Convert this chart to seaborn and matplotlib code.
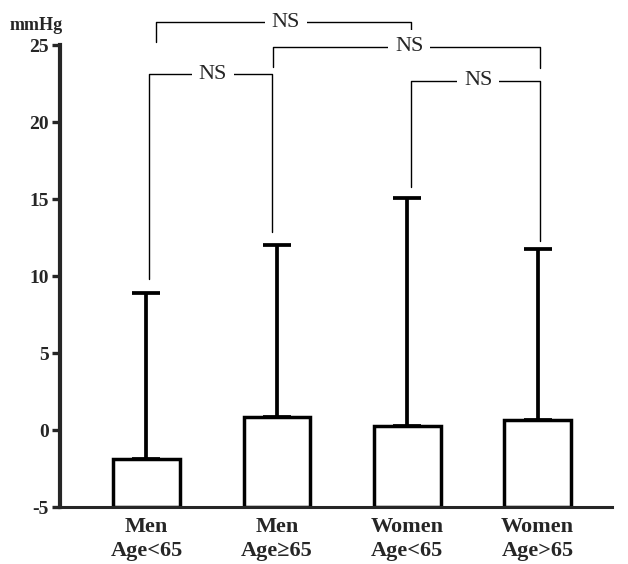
import numpy as np
import seaborn as sns
import matplotlib.pyplot as plt

# group labels and values (mmHg)
groups = ["Men\nAge<65", "Men\nAge≥65", "Women\nAge<65", "Women\nAge>65"]
means = [-1.9, 0.85, 0.25, 0.65]
upper = [8.9, 12.05, 15.1, 11.75]
baseline = -5

# NS comparison brackets between bars
brk_pairs = [(0, 2), (1, 3), (0, 1), (2, 3)]
brk_y = [26.5, 24.9, 23.1, 22.7]
brk_left_end = [25.2, 23.6, 9.8, 15.8]
brk_right_end = [25.5, 23.5, 12.85, 12.3]
brk_label = ["NS", "NS", "NS", "NS"]

sns.set_style("ticks")
plt.rcParams['font.family'] = ['Liberation Serif', 'DejaVu Serif']
plt.rcParams['axes.unicode_minus'] = False

fig = plt.figure(figsize=(6.28, 5.64), dpi=100)
ax = fig.add_axes([0.0955, 0.101, 0.879, 0.819])

sns.barplot(x=groups, y=means, color='white', edgecolor='black',
            linewidth=2.5, width=0.51, errorbar=None, ax=ax, saturation=1)
# bars start at the bottom of the axis, not at zero
for p, m in zip(ax.patches, means):
    p.set_y(baseline)
    p.set_height(m - baseline)

x = np.arange(len(groups))
ax.errorbar(x, means, yerr=[np.zeros(len(means)), np.array(upper) - np.array(means)],
            fmt='none', ecolor='black', elinewidth=2.7, capsize=10, capthick=2.7, zorder=3)

# brackets
offs = [(0.07, 0.03), (-0.03, 0.02), (0.02, -0.04), (0.03, 0.02)]
for (a, b), y, le, re, lab, (oa, ob) in zip(brk_pairs, brk_y, brk_left_end,
                                            brk_right_end, brk_label, offs):
    xa, xb = a + oa, b + ob
    ax.plot([xa, xa, xb, xb], [le, y, y, re], color='black', lw=1.0,
            clip_on=False, zorder=4)
    ax.text((xa + xb) / 2 + 0.02, y, lab, ha='center', va='center', fontsize=16,
            clip_on=False, zorder=5,
            bbox=dict(boxstyle='square,pad=0.3', fc='white', ec='none'))

ax.set_xlim(-0.663, 3.57)
ax.set_ylim(-5, 25)
ax.set_yticks([-5, 0, 5, 10, 15, 20, 25])
ax.set_xlabel("")
ax.set_ylabel("")

sns.despine(ax=ax)
ax.spines['left'].set_linewidth(3)
ax.spines['bottom'].set_linewidth(2.2)
ax.tick_params(axis='y', length=6, width=2.4, labelsize=14, pad=2)
ax.tick_params(axis='x', length=0, labelsize=16, pad=7)
for t in ax.get_yticklabels() + ax.get_xticklabels():
    t.set_fontweight('bold')
for t in ax.get_xticklabels():
    t.set_linespacing(1.25)

fig.text(0.016, 0.955, "mmHg", fontsize=13, fontweight='bold', va='center', ha='left')

fig.savefig("out.png", dpi=100)
